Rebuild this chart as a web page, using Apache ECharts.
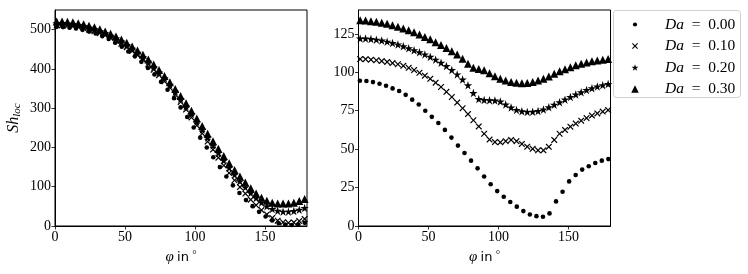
<!DOCTYPE html>
<html><head><meta charset="utf-8">
<script src="https://cdn.jsdelivr.net/npm/echarts@6/dist/echarts.min.js"></script>
<style>html,body{margin:0;padding:0;background:#fff}#c{width:748px;height:274px}</style>
</head><body><div id="c"></div>
<script>
// phi positions (degrees)
const phiDots = [1.0,5.67,10.34,15.01,19.68,24.35,29.02,33.69,38.36,43.03,47.7,52.37,57.04,61.71,66.38,71.05,75.72,80.39,85.06,89.73,94.4,99.07,103.74,108.41,113.08,117.75,122.42,127.09,131.76,136.43,141.1,145.77,150.44,155.11,159.78,164.45,169.12,173.79,178.46];
const phiDense = [1.2,5.05,8.9,12.75,16.6,20.45,24.3,28.15,32.0,35.85,39.7,43.55,47.4,51.25,55.1,58.95,62.8,66.65,70.5,74.35,78.2,82.05,85.9,89.75,93.6,97.45,101.3,105.15,109.0,112.85,116.7,120.55,124.4,128.25,132.1,135.95,139.8,143.65,147.5,151.35,155.2,159.05,162.9,166.75,170.6,174.45,178.3];

// Left panel: Sh_loc
const leftDa000 = [507,506.5,505,503,499.5,495,490,483.5,476,466.5,456.5,444.5,432,418,402.5,386,367,347,325.5,302,277.5,251,225,200,175,150,126,103.5,84,66,50.5,36,24,14,7,3.5,2.5,4,8];
const leftDa010 = [511,511,510,508.5,506.5,503.5,500,496,491,485.5,479,472,464,455,445.5,435,423.5,411.5,398,384,368.5,352,334.5,316,296.5,276.5,256,235.5,215,194.5,174,154,135,116.5,99,82.5,67,53,40.5,29.5,20.5,13.5,9.5,8,9,12.5,18];
const leftDa020 = [516,516,515,513.5,511.5,508.5,505,501,496,490.5,484.5,477.5,469.5,461,451.5,441,430,418,405,391,376,359.5,342,323.5,304.5,285,265,245,225,205,185.5,166.5,148,130.5,114,98.5,84,71,59.5,50,43,38.5,36.5,36.5,38,41.5,46];
const leftDa030 = [521,521,520,518.5,516.5,513.5,510,506,501,495.5,489.5,482.5,475,466.5,457,447,436,424,411,397,382,366,349,331,312.5,293.5,274,254.5,235,215.5,196.5,178,160,142.5,126,110.5,96,83,72,64,59.5,57.5,57,57.5,59.5,63.5,68.5];

// Right panel
const rightDa000 = [94.5,94.3,93.6,92.5,91.2,89.5,87.8,85.3,82.2,79,75,71,67,62.5,57.5,52.3,47.5,42.5,37.5,32.2,27.2,22.7,19,15.6,12.6,9.7,7.5,6.4,6.0,8.2,16,22.3,29,33.2,36.7,38.9,41,42.5,43.5];
const rightDa010 = [108.6,108.5,108.2,107.8,107.3,106.7,106,105.2,104.2,102.9,101.4,99.7,97.8,95.7,93.2,90.4,87.3,83.9,80.3,76.6,72.8,68.8,64.8,60,56.2,54.6,54.4,55.2,56,55.2,53.4,51.6,50.2,49.2,49.2,51.5,56,60,62.5,64.6,66.6,68.5,70.2,71.8,73.2,74.4,75.4];
const rightDa020 = [122,121.9,121.6,121.2,120.6,119.9,119,118,116.9,115.6,114.3,113,111.6,110,108.2,106.2,104,101.5,98.6,95.3,91.5,86.5,82.6,82,81.8,81.6,81,79,77,75.5,74.6,74.2,74.3,74.8,75.8,77.2,78.8,80.5,82.2,83.9,85.5,87,88.4,89.6,90.7,91.6,92.3];
const rightDa030 = [133.8,133.6,133.2,132.8,132.2,131.5,130.6,129.6,128.5,127.3,126,124.6,123,121.4,119.6,117.8,115.8,113.7,111.5,108.8,105.6,103,102.2,101.3,99.3,97.4,95.8,94.6,93.7,93.1,92.8,93,93.6,94.6,95.8,97.3,99,100.6,102,103.3,104.5,105.5,106.4,107.1,107.7,108.2,108.6];

const seriesNames = ['Da = 0.00','Da = 0.10','Da = 0.20','Da = 0.30'];
const xTicks = [0,50,100,150];
const yTicksLeft = [0,100,200,300,400,500];
const yTicksRight = [0,25,50,75,100,125];

const STAR = 'path://M5,0 L6.18,3.6 L10,3.6 L6.9,5.8 L8.1,9.5 L5,7.2 L1.9,9.5 L3.1,5.8 L0,3.6 L3.82,3.6 Z';
const CROSS = 'path://M0,1.3 L1.3,0 L5,3.7 L8.7,0 L10,1.3 L6.3,5 L10,8.7 L8.7,10 L5,6.3 L1.3,10 L0,8.7 L3.7,5 Z';
const symbols = ['circle', CROSS, STAR, 'triangle'];
const symSizes = [4.6, 6.5, 8.5, 8];

function pairs(xs, ys){ return xs.map((x,i)=>[x, ys[i]]); }

const SERIF = 'Liberation Serif';
const lab = {color:'#000', fontFamily:SERIF, fontSize:14};

function xAx(g){
  return {gridIndex:g, type:'value', min:0, max:180,
    axisLine:{show:true,lineStyle:{color:'#000',width:1}},
    axisTick:{show:true,length:3.5,lineStyle:{color:'#000',width:0.8},customValues:xTicks},
    axisLabel:Object.assign({customValues:xTicks, margin:4}, lab),
    splitLine:{show:false},
    name:'{m|φ} {s|in} {d|°}', nameLocation:'middle', nameGap:24,
    nameTextStyle:{rich:{
      m:{fontFamily:SERIF,fontStyle:'italic',fontSize:15,color:'#000'},
      s:{fontFamily:'DejaVu Sans',fontSize:13,color:'#000'},
      d:{fontFamily:SERIF,fontSize:11,color:'#000',verticalAlign:'top',lineHeight:10}
    }}
  };
}
function yAx(g, max, ticks, named){
  const o = {gridIndex:g, type:'value', min:0, max:max,
    axisLine:{show:true,lineStyle:{color:'#000',width:1}},
    axisTick:{show:true,length:3.5,lineStyle:{color:'#000',width:0.8},customValues:ticks},
    axisLabel:Object.assign({customValues:ticks, margin:4}, lab),
    splitLine:{show:false}};
  if(named){
    o.name = '{a|Sh}{b|loc}';
    o.nameLocation = 'middle';
    o.nameGap = 32;
    o.nameTextStyle = {rich:{
      a:{fontFamily:SERIF,fontStyle:'italic',fontSize:16,color:'#000',lineHeight:18},
      b:{fontFamily:SERIF,fontStyle:'italic',fontSize:11,color:'#000',lineHeight:8,verticalAlign:'bottom'}
    }};
  }
  return o;
}

const leftData = [leftDa000,leftDa010,leftDa020,leftDa030];
const rightData = [rightDa000,rightDa010,rightDa020,rightDa030];
const series = [];
for(let k=0;k<4;k++){
  const xs = k===0 ? phiDots : phiDense;
  series.push({type:'scatter', name:seriesNames[k], xAxisIndex:0, yAxisIndex:0,
    symbol:symbols[k], symbolSize:symSizes[k], itemStyle:{color:'#000',opacity:1},
    data:pairs(xs,leftData[k])});
  series.push({type:'scatter', name:seriesNames[k], xAxisIndex:1, yAxisIndex:1,
    symbol:symbols[k], symbolSize:symSizes[k], itemStyle:{color:'#000',opacity:1},
    data:pairs(xs,rightData[k])});
}

const rowY = [24.5, 46, 67.5, 89];
const legIcon = [4.2, 6, 7, 7.5];
const ICON_CX = 635, TEXT_X = 665;
const legends = seriesNames.map((n,i)=>({
  data:[{name:n, icon:symbols[i]}],
  left:ICON_CX - legIcon[i]/2, top:rowY[i]-8, padding:0,
  itemWidth:legIcon[i], itemHeight:legIcon[i], symbolKeepAspect:true,
  selectedMode:false,
  itemStyle:{color:'#000'},
  formatter:function(name){ return '{p| }{i|Da}\u2002=\u2002' + name.split('= ')[1]; },
  textStyle:{color:'#000',fontFamily:SERIF,fontSize:15.5,lineHeight:16,
    rich:{
      p:{width:TEXT_X - (ICON_CX + legIcon[i]/2) - 5, lineHeight:16},
      i:{fontFamily:SERIF,fontStyle:'italic',fontSize:15.5,color:'#000',lineHeight:16}}}
}));

const chart = echarts.init(document.getElementById('c'), null, {renderer:'canvas'});
chart.setOption({
  animation:false,
  backgroundColor:'#fff',
  grid:[
    {left:55, top:10, width:252, height:216, show:true, borderColor:'#000', borderWidth:1, backgroundColor:'transparent'},
    {left:358.5, top:10, width:252, height:216, show:true, borderColor:'#000', borderWidth:1, backgroundColor:'transparent'}
  ],
  xAxis:[xAx(0), xAx(1)],
  yAxis:[yAx(0,550,yTicksLeft,true), yAx(1,140.5,yTicksRight,false)],
  legend:legends,
  graphic:[{type:'rect', z:-1, shape:{x:613.5,y:10.5,width:127,height:87,r:3},
    style:{fill:'#fff',stroke:'#d0d0d0',lineWidth:1}}],
  series:series
});
</script></body></html>
